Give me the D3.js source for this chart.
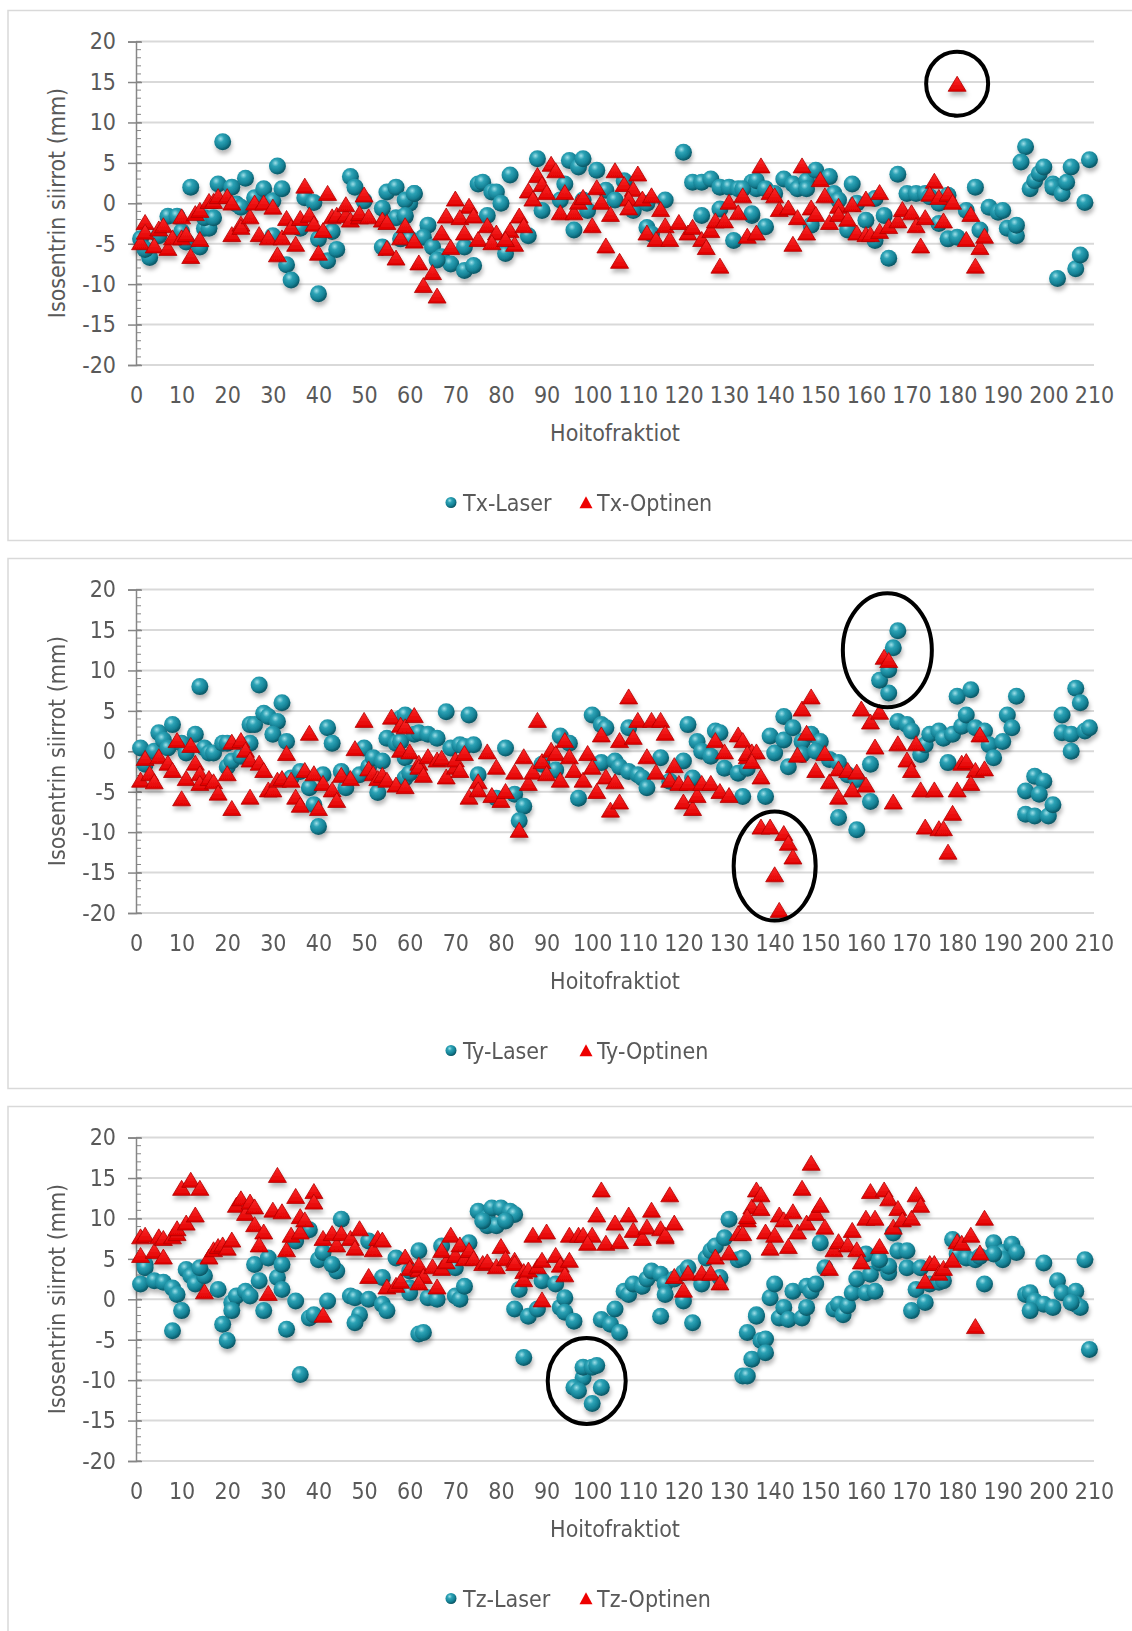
<!DOCTYPE html>
<html lang="fi">
<head>
<meta charset="UTF-8">
<title>Isosentrin siirrot</title>
<script src="https://d3js.org/d3.v7.min.js"></script>
<style>
  body { margin: 0; background: #fff; }
  svg { display: block; font-family: "DejaVu Sans Condensed", "DejaVu Sans", sans-serif; font-stretch: condensed; }
  .lbl { fill: #595959; font-size: 23px; }
</style>
</head>
<body>
<svg width="1132" height="1631"></svg>
<script>
// Hoitofraktio (x) ja siirto mm (y), luettu kuvasta
const txLaser = [[1,-4.4],[3,-6.7],[2,-5.7],[5,-4.0],[7,-1.6],[9,-1.6],[10,-3.5],[11,-4.8],[12,2.0],[14,-5.4],[15,-3.1],[16,-3.1],[15,-1.8],[17,-1.8],[18,2.4],[19,7.6],[21,2.0],[22,-0.1],[23,-0.5],[24,3.1],[26,0.7],[28,1.8],[30,-4.0],[30,0.3],[31,4.6],[32,1.8],[33,-7.6],[34,-9.5],[36,-3.1],[37,0.7],[39,0.1],[40,-11.2],[40,-4.4],[42,-7.1],[43,-3.5],[44,-5.7],[47,3.3],[48,2.0],[50,0.3],[54,-0.6],[54,-5.4],[55,1.4],[57,2.0],[57,-1.8],[59,-1.6],[58,-4.4],[60,-4.4],[60,0],[61,1.2],
  [59,0.4],[61,1.2],[59,-1.5],[64,-2.7],[63,-4.2],[65,-5.4],[67,-6.6],[69,-7.5],[72,-5.4],[72,-8.3],[74,-7.7],[66,-7.0],[75,2.4],[76,2.6],[78,1.4],[79,1.4],[80,0],[82,3.5],[77,-1.5],[81,-6.2],[86,-4.0],[88,5.5],[89,-0.9],[95,5.3],[97,4.5],[98,5.5],[101,4.1],[94,2.4],[93,0.4],[96,-3.3],[98,0.4],[99,-0.9],[103,1.6],[105,0.4],[107,2.8],[109,-0.9],[112,0],[116,0.4],[112,-3.0],[113,-3.8],[120,6.3],[122,2.6],[124,2.6],[126,3.0],[128,2.0],[130,2.0],[132,1.8],[135,2.6],[136,1.8],[124,-1.5],[128,-0.7],[135,-1.5],[131,-4.6],
  [133,1.8],[135,-1.3],[136,2.8],[138,1.8],[138,-2.9],[140,1.2],[142,3.0],[144,2.4],[145,1.8],[147,2.8],[149,4.1],[147,1.8],[152,3.3],[153,1.2],[154,0.4],[148,-2.7],[157,2.4],[156,-3.3],[158,0],[160,-2.1],[162,0.6],[162,-4.6],[164,-1.5],[167,3.6],[165,-6.8],[169,1.2],[171,1.2],[173,1.2],[174,0.8],[176,0],[178,1.0],[176,-2.5],[178,-4.4],[180,-4.2],[184,2.0],[182,-0.9],[185,-3.3],[187,-0.5],[189,-1.1],[190,-0.9],[191,-3.1],[193,-4.0],[193,-2.7],[195,7.0],[194,5.1],[196,1.8],[197,2.8],[198,3.7],[199,4.5],[201,2.4],[201,2.0],[203,1.2],[204,2.6],[205,4.5],[208,0.1],[209,5.4],[202,-9.3],[206,-8.1],[207,-6.4]];

const txOpt = [[1,-5.0],[2,-2.5],[2,-3.7],[4,-5.4],[5,-3.3],[6,-2.9],[7,-5.7],[8,-4.4],[10,-1.8],[10,-4.4],[11,-4.0],[12,-6.7],[13,-1.4],[14,-4.6],[14,-1.0],[16,0.1],[17,0.1],[18,0.7],[20,0.7],[21,-0.1],[21,-4.0],[23,-2.7],[23,-3.1],[25,-1.8],[26,-0.1],[28,-0.1],[27,-4.0],[29,-4.4],[30,-0.6],[31,-6.5],[32,-4.4],[33,-2.0],[34,-3.1],[35,-5.2],[36,-2.0],[37,2.0],[38,-1.6],[39,-2.7],[40,-6.3],[41,-3.5],[42,1.1],[43,-1.8],[44,-1.6],[46,-1.6],[46,-0.3],[47,-2.2],[49,-1.8],[49,-1.4],[50,0.9],[51,-1.8],[54,-2.2],[55,-2.5],[55,-5.7],[57,-6.9],[58,-4.4],[59,-2.9],[61,-4.8],
  [62,-7.5],[65,-8.7],[63,-10.3],[66,-11.6],[67,-3.8],[69,-5.6],[68,-1.7],[70,0.4],[73,-0.5],[71,-1.9],[74,-1.7],[72,-3.8],[75,-4.6],[77,-2.9],[79,-3.8],[78,-5.0],[82,-3.5],[83,-5.2],[81,-4.6],[84,-1.7],[85,-2.9],[86,1.4],[87,0.4],[88,3.3],[89,2.2],[90,1.2],[91,4.7],[92,3.9],[93,-1.3],[94,1.2],[96,-1.3],[97,0],[98,0.6],[100,-2.9],[101,1.8],[102,0],[103,-5.4],[104,-1.5],[105,3.9],[106,-7.3],[107,2.2],[109,1.6],[110,3.5],[108,0.4],[108,-0.7],[111,0.4],[113,0.8],[115,-0.9],[112,-3.8],[114,-4.6],[116,-2.9],[117,-4.6],[119,-2.5],[121,-3.8],[122,-3.1],[124,-4.6],[125,-5.6],[126,-3.5],[127,-2.3],[129,-2.3],[130,0],[132,-1.3],[128,-7.9],[134,-4.2],[136,-3.8],
  [133,0.8],[137,4.5],[139,1.2],[140,0.8],[141,-0.9],[143,-0.7],[145,-1.9],[144,-5.2],[146,4.5],[147,-3.8],[148,-0.7],[149,-1.5],[150,2.8],[151,0.8],[152,-2.5],[154,-0.5],[154,-1.5],[156,-2.1],[157,-0.3],[160,0.4],[163,1.2],[158,-3.8],[160,-4.0],[161,-4.0],[163,-3.6],[165,-3.0],[167,-2.3],[168,-0.9],[170,-1.3],[171,-2.9],[173,-1.9],[172,-5.4],[175,2.6],[174,1.0],[176,0.6],[177,-2.3],[178,1.0],[179,0],[180,14.6],[182,-4.6],[183,-1.5],[184,-7.9],[185,-5.6],[186,-4.2]];

const tyLaser = [[1,0.4],[2,-1.6],[4,0],[5,2.3],[6,1.4],[8,3.3],[7,0.4],[10,1.0],[11,-0.2],[13,2.1],[14,8.0],[15,0.4],[16,-0.2],[17,-0.2],[19,1.0],[20,1.0],[20,-1.9],[21,-1.2],[23,-0.6],[25,1.0],[25,3.3],[26,3.3],[27,8.2],[28,4.7],[29,4.3],[31,3.7],[30,2.1],[33,1.2],[32,6.0],[34,-3.3],[36,-2.5],[38,-4.5],[39,-6.6],[40,-9.3],[41,-2.9],[45,-2.5],[49,-2.9],[46,-4.5],[42,2.9],[43,1.0],[50,0.4],[51,-1.9],[52,-0.8],[54,-1.2],[53,-5.1],[55,1.6],[57,1.0],[58,4.1],[59,-0.8],[59,-3.3],[60,-2.7],
  [59,4.5],[58,1.2],[61,2.1],[62,2.3],[64,2.1],[66,1.6],[68,4.9],[73,4.5],[69,0.4],[71,0.8],[72,0.6],[74,0.8],[75,-2.9],[79,-5.8],[83,-5.3],[85,-6.8],[84,-8.6],[81,0.4],[89,-1.6],[92,-2.3],[93,1.9],[95,1.0],[97,-5.8],[100,4.5],[102,3.3],[103,2.9],[102,-1.4],[105,-1.2],[106,-1.9],[108,-2.5],[110,-2.9],[111,-3.3],[112,-4.5],[108,2.9],[115,-0.8],[117,-3.7],[120,-1.2],[122,-3.3],[121,3.3],[123,1.2],[124,0],[126,-0.6],[127,2.5],[128,2.3],[129,-2.1],[132,-2.7],[134,-2.1],[133,-5.6],
  [138,-5.6],[142,4.3],[139,1.9],[140,-0.2],[142,1.4],[143,-1.9],[144,2.9],[146,1.2],[148,2.1],[150,1.2],[146,-0.4],[149,0],[152,-1.0],[154,-1.4],[156,-2.9],[158,-3.5],[161,-1.6],[161,-6.2],[154,-8.2],[158,-9.7],[165,7.2],[163,8.8],[165,10.1],[166,12.8],[167,14.9],[167,3.7],[169,3.3],[170,2.5],[172,-0.4],[173,0.8],[174,2.1],[176,2.5],[177,1.6],[179,2.1],[181,3.1],[182,4.5],[184,2.9],[186,2.5],[187,0.8],[188,-0.8],[190,1.2],[191,4.5],[192,2.9],[178,-1.4],[180,6.8],[183,7.6],[193,6.8],[195,-4.9],[197,-3.1],[199,-3.7],[198,-5.3],[195,-7.8],[197,-8.0],[200,-8.0],[201,-6.6],[203,4.5],[203,2.3],[205,2.1],[205,0],[206,7.8],[207,6.0],[208,2.5],[209,2.9]];

const tyOpt = [[1,-3.7],[2,-1.0],[3,-2.9],[4,-3.9],[5,-0.8],[7,-1.6],[8,-2.5],[9,1.2],[10,-6.0],[11,-3.5],[12,0.6],[13,-1.6],[14,-2.9],[14,-4.1],[16,-3.5],[17,-3.9],[18,-5.3],[20,-2.9],[21,-7.2],[21,1.0],[23,1.2],[24,0],[25,-5.8],[25,-1.2],[27,-1.6],[28,-2.5],[29,-4.9],[30,-4.9],[31,-3.7],[32,-3.5],[33,-0.4],[34,-3.7],[35,-5.8],[36,-6.8],[37,-2.5],[38,2.1],[39,-2.9],[40,-7.2],[41,-4.1],[43,-4.9],[44,-6.2],[45,-3.1],[47,-3.5],[48,0.2],[50,3.7],[51,-2.3],[52,-2.9],[53,-3.5],[54,-3.1],[55,-3.7],[57,-4.3],[56,4.1],[58,3.1],[59,2.9],[61,4.3],[58,0],[60,-0.2],[62,-1.6],
  [59,-4.5],[62,-2.1],[63,-3.1],[64,-0.8],[66,-1.2],[67,-1.0],[68,-3.3],[70,-2.1],[70,-1.2],[72,-0.4],[71,-2.5],[73,-5.8],[75,-3.9],[75,-4.9],[78,-5.6],[80,-6.2],[81,-5.1],[77,-0.2],[79,-2.1],[83,-2.7],[85,-0.8],[86,-4.1],[87,-2.7],[88,3.7],[84,-9.9],[89,-1.4],[90,-2.9],[91,0],[92,-0.4],[93,-3.7],[94,1.2],[95,-0.8],[96,-2.5],[98,-3.7],[99,-0.4],[100,-2.1],[101,-5.1],[102,1.9],[103,-3.3],[104,-7.4],[105,-3.9],[106,-6.4],[106,1.2],[108,6.6],[109,1.6],[110,3.7],[112,-0.8],[113,3.7],[114,-2.7],[115,3.7],[116,2.1],[118,-1.9],[117,-3.7],[119,-4.1],[120,-6.4],[121,-4.1],[122,-7.2],[123,-5.6],[124,-4.1],[126,-4.1],[128,-5.1],[130,-5.6],[127,1.2],[129,-0.2],[132,1.9],[133,1.2],[134,-0.8],[135,-0.2],[137,-9.5],
  [134,-0.4],[136,-0.2],[137,-3.3],[135,-1.4],[139,-9.5],[142,-10.3],[143,-11.5],[144,-13.2],[140,-15.4],[141,-19.8],[145,-0.6],[147,2.1],[146,5.1],[148,6.6],[149,-2.5],[151,-0.4],[152,-3.9],[154,-5.8],[154,-2.3],[156,-2.5],[157,-4.9],[158,-2.7],[160,-4.3],[159,5.1],[161,3.5],[163,4.7],[162,0.4],[164,11.5],[165,11.1],[167,0.8],[169,-1.2],[170,-2.5],[171,0.8],[166,-6.4],[172,-4.9],[175,-4.9],[173,-9.5],[176,-9.7],[177,-9.7],[179,-7.8],[178,-12.6],[181,-1.6],[182,-1.4],[184,-2.5],[186,-2.3],[183,-4.1],[180,-4.9],[185,1.9]];

const tzLaser = [[1,1.9],[2,4.3],[2,3.9],[4,2.3],[6,2.1],[8,1.4],[9,0.6],[10,-1.4],[8,-3.9],[11,3.7],[12,2.9],[13,1.9],[15,2.9],[14,3.9],[18,1.2],[19,-3.1],[20,-5.1],[21,-0.4],[22,0.4],[24,1.0],[25,0.4],[21,-1.4],[26,4.3],[27,2.3],[28,-1.4],[29,5.1],[31,2.7],[32,1.2],[32,4.3],[35,-0.2],[33,-3.7],[36,-9.3],[35,7.2],[38,8.6],[38,-2.3],[39,-1.9],[40,4.9],[41,5.8],[44,3.5],[43,4.3],[42,-0.2],[45,9.9],[47,0.4],[48,0.2],[49,-1.9],[48,-2.9],[51,0],[54,-0.6],[55,-1.4],[51,7.2],[54,2.7],[57,5.1],[60,1.4],[60,3.5],[62,6.0],[62,-4.3],
  [60,0.8],[63,-4.1],[64,0.2],[66,0],[67,6.6],[70,0.4],[71,0],[72,1.6],[73,7.0],[70,3.9],[75,10.9],[77,10.1],[78,11.3],[80,11.3],[82,10.9],[83,10.5],[77,9.1],[79,9.1],[81,9.7],[76,9.7],[83,-1.2],[85,-7.2],[84,1.2],[86,-2.1],[88,-1.2],[89,2.3],[92,1.9],[93,-1.0],[94,0.2],[94,-1.6],[96,-2.7],[98,-9.7],[98,-8.4],[100,-8.4],[101,-8.2],[96,-10.9],[97,-11.3],[102,-10.9],[100,-12.9],[102,-2.5],[104,-3.1],[105,-1.2],[106,-4.1],[107,1.0],[108,0.6],[109,1.9],[111,1.6],[112,2.5],[113,3.5],[115,3.1],[116,1.9],[116,0.6],[118,2.5],[115,-2.1],[120,-0.2],[122,-2.9],[120,3.3],[121,3.9],[124,1.9],[125,5.1],[126,6.0],[127,6.6],[128,2.7],[129,7.6],[130,9.9],[132,4.9],[134,-4.1],[136,-1.9],[135,-7.4],[133,-9.5],[137,-5.1],
  [133,5.1],[134,-9.5],[136,-2.1],[138,-4.9],[138,-6.6],[139,0.2],[140,1.9],[141,-2.3],[142,-1.0],[143,-2.5],[144,1.0],[146,-2.3],[147,-1.0],[147,1.6],[148,1.0],[149,1.9],[150,7.0],[151,3.9],[153,-1.2],[154,-0.6],[155,-1.9],[156,-0.8],[157,0.8],[158,2.5],[160,0.8],[162,1.0],[161,3.1],[163,4.5],[165,3.3],[165,4.1],[160,5.6],[163,4.9],[166,8.2],[167,6.0],[169,6.0],[169,3.9],[170,-1.4],[171,1.2],[172,3.9],[173,-0.4],[174,1.9],[176,2.1],[177,2.3],[179,7.4],[180,5.6],[182,5.1],[184,4.9],[185,5.3],[186,1.9],[188,7.0],[190,5.8],[192,6.8],[193,5.8],[190,4.9],[188,5.6],[199,4.5],[208,4.9],[195,0.6],[196,0.8],[197,-0.2],[199,-0.6],[196,-1.4],[201,-1.0],[202,2.3],[203,0.8],[206,1.0],[206,-0.6],[207,-1.0],[205,-0.4],[209,-6.2]];

const tzOpt = [[1,5.3],[1,7.6],[2,7.8],[4,5.8],[5,7.6],[6,5.1],[6,7.4],[8,7.6],[9,8.0],[9,8.6],[10,13.6],[11,9.3],[12,14.6],[13,10.3],[14,13.6],[15,0.8],[16,5.1],[17,6.0],[18,6.4],[19,6.6],[20,6.2],[21,7.2],[22,11.5],[23,12.3],[24,10.5],[25,11.9],[26,9.1],[26,11.3],[28,8.2],[27,6.6],[29,0.6],[30,10.9],[31,15.2],[32,10.7],[33,6.0],[34,7.8],[35,12.6],[36,8.2],[36,10.1],[37,9.7],[39,13.2],[39,11.9],[41,-2.1],[41,7.4],[43,8.0],[44,6.6],[45,8.0],[47,7.4],[48,6.2],[49,8.6],[51,2.7],[52,6.0],[53,7.4],[54,7.2],[55,1.4],[57,1.6],[58,2.1],[59,5.1],[60,3.7],[62,3.5],
  [62,4.1],[63,2.7],[65,3.9],[67,3.7],[68,4.5],[67,5.9],[69,7.8],[70,5.3],[71,6.6],[72,4.9],[73,5.9],[74,4.9],[76,4.3],[77,4.5],[79,3.9],[80,6.4],[81,4.9],[83,4.7],[83,4.3],[85,3.3],[85,2.3],[86,3.5],[88,3.9],[89,4.7],[92,5.3],[93,4.1],[94,2.9],[95,4.7],[62,1.9],[66,1.4],[87,7.8],[90,8.2],[89,-0.2],[95,7.8],[97,7.8],[98,7.8],[100,7.8],[99,6.8],[102,13.4],[101,10.3],[103,6.8],[105,9.3],[106,7.0],[108,10.3],[109,8.4],[111,7.4],[112,8.8],[113,10.9],[115,8.6],[116,7.6],[116,7.8],[117,12.8],[118,9.3],[118,2.7],[120,1.0],[121,3.1],[124,3.1],[126,3.1],[128,1.9],[127,5.1],[130,5.6],[132,8.0],[134,9.7],[135,11.3],[136,13.4],[137,12.8],
  [133,8.0],[134,10.1],[137,11.1],[138,8.2],[139,6.2],[140,7.8],[141,10.3],[142,9.7],[143,6.4],[144,10.7],[145,8.2],[146,13.6],[147,9.3],[148,16.7],[149,10.5],[150,11.5],[151,8.8],[152,3.7],[153,6.0],[154,7.0],[156,6.6],[157,8.4],[158,6.0],[159,4.5],[160,9.9],[161,13.2],[162,9.9],[163,6.4],[164,13.4],[165,12.3],[166,8.8],[167,11.1],[168,9.7],[170,9.9],[171,12.8],[172,11.5],[173,2.1],[174,4.3],[175,4.3],[176,3.1],[177,3.7],[179,4.7],[180,7.0],[181,6.8],[183,7.8],[185,5.6],[186,9.9],[184,-3.5]];

const xTicks = d3.range(0, 211, 10);
const yTicks = [-20, -15, -10, -5, 0, 5, 10, 15, 20];
const seriesNames = [["Tx-Laser", "Tx-Optinen"], ["Ty-Laser", "Ty-Optinen"], ["Tz-Laser", "Tz-Optinen"]];
// merkityt poikkeamat: [fraktio, mm] ympyrän keskipiste
const marked = [[[180, 14.8]], [[164.7, 12.5], [140, -14.2]], [[98.8, -10.1]]];

const svg = d3.select("svg");
const defs = svg.append("defs");

const rg = defs.append("radialGradient").attr("id", "ball")
  .attr("cx", "38%").attr("cy", "32%").attr("r", "68%");
rg.append("stop").attr("offset", "0%").attr("stop-color", "#9fdfe8");
rg.append("stop").attr("offset", "30%").attr("stop-color", "#2da3b6");
rg.append("stop").attr("offset", "70%").attr("stop-color", "#158296");
rg.append("stop").attr("offset", "100%").attr("stop-color", "#0a5563");

const lg = defs.append("linearGradient").attr("id", "tri")
  .attr("x1", "0").attr("y1", "0").attr("x2", "0").attr("y2", "1");
lg.append("stop").attr("offset", "0%").attr("stop-color", "#ff2a2a");
lg.append("stop").attr("offset", "100%").attr("stop-color", "#e00000");

const sh = defs.append("filter").attr("id", "shadow")
  .attr("x", "-10%").attr("y", "-10%").attr("width", "120%").attr("height", "130%");
sh.append("feDropShadow").attr("dx", 1).attr("dy", 4).attr("stdDeviation", 2)
  .attr("flood-color", "#000").attr("flood-opacity", 0.28);

const triPath = (w, h) => `M0,${-h * 0.6}L${w / 2},${h * 0.4}L${-w / 2},${h * 0.4}Z`;

const panels = [[txLaser, txOpt], [tyLaser, tyOpt], [tzLaser, tzOpt]];
const offsets = [0, 548, 1096];
const fmt = d => String(d);

panels.forEach((p, i) => {
  const off = offsets[i];
  const g = svg.append("g");

  g.append("rect")
    .attr("x", 8).attr("y", 10.5 + off)
    .attr("width", 1140).attr("height", 530)
    .attr("fill", "none").attr("stroke", "#d9d9d9").attr("stroke-width", 1.5);

  const x = d3.scaleLinear().domain([0, 210]).range([136, 1094]);
  const y = d3.scaleLinear().domain([-20, 20]).range([365 + off, 41.6 + off]);

  // ruudukko
  g.append("g").selectAll("line").data(yTicks).join("line")
    .attr("x1", x(0)).attr("x2", x(210))
    .attr("y1", d => y(d)).attr("y2", d => y(d))
    .attr("stroke", "#d9d9d9").attr("stroke-width", 2);

  // y-akseli: pääjaot ristiin, apujaot oikealle
  const ya = g.append("g").attr("transform", `translate(${x(0)},0)`)
    .call(d3.axisLeft(y).tickValues(yTicks).tickFormat(fmt).tickSize(8).tickPadding(12));
  ya.select(".domain").attr("stroke", "#868686").attr("stroke-width", 1.5);
  ya.selectAll(".tick line").attr("stroke", "#868686").attr("stroke-width", 1.5).attr("x2", -8).attr("x1", 6);
  ya.selectAll(".tick text").attr("class", "lbl");
  g.append("g").selectAll("line").data(d3.range(-20, 21, 1)).join("line")
    .attr("x1", x(0)).attr("x2", x(0) + 5)
    .attr("y1", d => y(d)).attr("y2", d => y(d))
    .attr("stroke", "#868686").attr("stroke-width", 1);

  // x-akseli (vain tekstit)
  const xa = g.append("g").attr("transform", `translate(0,${y(-20)})`)
    .call(d3.axisBottom(x).tickValues(xTicks).tickFormat(fmt).tickSize(0).tickPadding(22));
  xa.select(".domain").remove();
  xa.selectAll(".tick text").attr("class", "lbl");
  xa.attr("font-size", null).attr("font-family", null);
  ya.attr("font-size", null).attr("font-family", null);

  g.append("text").attr("class", "lbl")
    .attr("x", 615).attr("y", 441 + off).attr("text-anchor", "middle")
    .text("Hoitofraktiot");
  g.append("text").attr("class", "lbl")
    .attr("transform", `translate(65,${203 + off}) rotate(-90)`)
    .attr("text-anchor", "middle")
    .text("Isosentrin siirrot (mm)");

  // pisteet
  const marks = g.append("g").attr("filter", "url(#shadow)");
  marks.selectAll("circle").data(p[0]).join("circle")
    .attr("cx", d => x(d[0])).attr("cy", d => y(d[1])).attr("r", 8.5)
    .attr("fill", "url(#ball)");
  marks.selectAll("path").data(p[1]).join("path")
    .attr("transform", d => `translate(${x(d[0])},${y(d[1])})`)
    .attr("d", triPath(18, 15))
    .attr("fill", "url(#tri)").attr("stroke", "#b00000").attr("stroke-width", 0.8);

  // merkinnät
  const rads = i === 1 ? [[44.5, 57], [41, 54.5]] : i === 0 ? [[31, 32]] : [[39, 43]];
  g.selectAll("ellipse").data(marked[i]).join("ellipse")
    .attr("cx", d => x(d[0])).attr("cy", d => y(d[1]))
    .attr("rx", (d, k) => rads[k][0]).attr("ry", (d, k) => rads[k][1])
    .attr("fill", "none").attr("stroke", "#000").attr("stroke-width", 4);

  // selite
  const ly = 502.5 + off;
  g.append("circle").attr("cx", 451).attr("cy", ly).attr("r", 5.5).attr("fill", "url(#ball)");
  g.append("text").attr("class", "lbl").attr("x", 463).attr("y", ly + 8.5).text(seriesNames[i][0]);
  g.append("path").attr("transform", `translate(586,${ly + 1})`).attr("d", triPath(13, 12))
    .attr("fill", "#ee0000");
  g.append("text").attr("class", "lbl").attr("x", 597).attr("y", ly + 8.5).text(seriesNames[i][1]);
});
</script>
</body>
</html>
